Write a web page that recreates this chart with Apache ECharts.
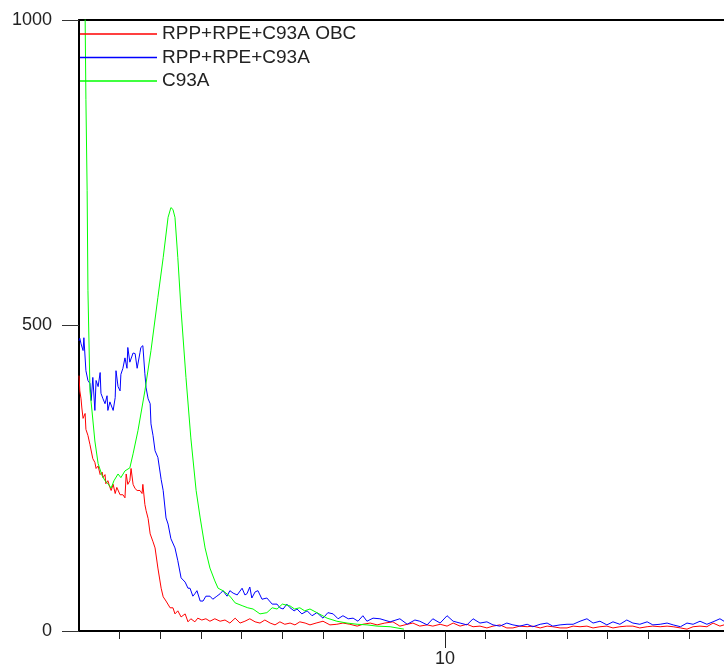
<!DOCTYPE html>
<html>
<head>
<meta charset="utf-8">
<script src="https://cdn.jsdelivr.net/npm/echarts@6/dist/echarts.min.js"></script>
<style>
  html, body { margin: 0; padding: 0; background: #fff; }
  #main { width: 724px; height: 669px; }
</style>
</head>
<body>
<div id="main"></div>
<script>
// legend names
var seriesNames = ['RPP+RPE+C93A OBC', 'RPP+RPE+C93A', 'C93A'];
var seriesColors = ['#ff0000', '#0000ff', '#00ff00'];

// x axis: 1 .. 16.86, only "10" is labelled
var xLabels = [10];

// [x, count]
var redData = [
  [1.00, 418], [1.02, 393], [1.05, 380], [1.07, 365], [1.10, 348], [1.12, 350], [1.15, 356], [1.17, 330],
  [1.22, 320], [1.27, 305], [1.30, 308], [1.34, 282], [1.39, 276], [1.42, 266], [1.47, 270], [1.52, 256],
  [1.57, 260], [1.59, 251], [1.64, 256], [1.66, 241], [1.71, 246], [1.76, 235], [1.79, 230], [1.84, 240],
  [1.89, 225], [1.93, 235], [1.96, 233], [2.01, 223], [2.03, 225], [2.08, 223], [2.13, 218], [2.16, 257],
  [2.20, 240], [2.25, 246], [2.28, 266], [2.33, 240], [2.38, 233], [2.43, 230], [2.50, 230], [2.55, 225],
  [2.57, 240], [2.62, 207], [2.65, 197], [2.70, 184], [2.75, 159], [2.82, 146], [2.87, 136], [2.94, 103],
  [3.02, 70], [3.07, 56], [3.14, 49], [3.24, 38], [3.31, 38], [3.36, 28], [3.43, 33], [3.51, 23],
  [3.61, 28], [3.68, 15], [3.75, 20], [3.85, 15], [3.92, 21], [4.02, 18], [4.12, 20], [4.22, 16],
  [4.34, 20], [4.47, 16], [4.59, 18], [4.71, 13], [4.84, 21], [4.96, 13], [5.08, 16], [5.20, 20],
  [5.33, 15], [5.45, 13], [5.57, 18], [5.70, 13], [5.82, 10], [5.94, 15], [6.06, 11], [6.19, 13],
  [6.31, 10], [6.43, 15], [6.56, 13], [6.68, 10], [6.83, 13], [7.00, 16], [7.17, 10], [7.34, 11],
  [7.49, 13], [7.66, 11], [7.84, 8], [7.98, 11], [8.16, 13], [8.33, 10], [8.52, 13], [8.72, 15],
  [8.89, 8], [9.07, 11], [9.21, 13], [9.38, 8], [9.56, 10], [9.70, 8], [9.88, 11], [10.05, 8],
  [10.20, 13], [10.37, 8], [10.54, 11], [10.69, 7], [10.86, 8], [11.03, 5], [11.18, 8], [11.35, 10],
  [11.52, 5], [11.67, 5], [11.84, 8], [12.02, 7], [12.16, 8], [12.34, 5], [12.51, 8], [12.65, 7],
  [12.83, 5], [13.00, 5], [13.15, 8], [13.32, 7], [13.49, 8], [13.64, 5], [13.81, 7], [13.98, 8],
  [14.13, 5], [14.30, 7], [14.47, 8], [14.62, 8], [14.79, 5], [14.97, 7], [15.11, 8], [15.29, 7],
  [15.46, 8], [15.61, 7], [15.79, 5], [15.95, 3], [16.10, 7], [16.27, 8], [16.44, 7], [16.59, 13],
  [16.76, 8], [16.86, 10]
];

var blueData = [
  [1.00, 475], [1.02, 479], [1.05, 470], [1.10, 459], [1.12, 480], [1.17, 426], [1.22, 410], [1.27, 405],
  [1.30, 377], [1.34, 415], [1.39, 361], [1.42, 410], [1.47, 400], [1.52, 423], [1.54, 389], [1.59, 380],
  [1.64, 372], [1.69, 385], [1.71, 361], [1.76, 375], [1.79, 372], [1.84, 361], [1.89, 382], [1.91, 426],
  [1.96, 400], [2.01, 393], [2.03, 420], [2.08, 430], [2.13, 447], [2.18, 430], [2.20, 464], [2.25, 440],
  [2.28, 438], [2.33, 455], [2.38, 454], [2.43, 430], [2.45, 430], [2.50, 456], [2.52, 464], [2.57, 467],
  [2.62, 421], [2.65, 398], [2.70, 380], [2.75, 372], [2.77, 339], [2.82, 320], [2.87, 295], [2.94, 284],
  [3.02, 248], [3.07, 230], [3.14, 185], [3.19, 175], [3.26, 151], [3.36, 136], [3.43, 115], [3.51, 87],
  [3.61, 80], [3.68, 70], [3.73, 70], [3.80, 57], [3.85, 61], [3.90, 66], [3.98, 49], [4.05, 49],
  [4.12, 57], [4.22, 57], [4.29, 52], [4.39, 57], [4.47, 61], [4.54, 66], [4.64, 57], [4.71, 66],
  [4.79, 62], [4.89, 59], [5.01, 70], [5.08, 59], [5.13, 61], [5.20, 72], [5.25, 54], [5.33, 64],
  [5.40, 66], [5.50, 52], [5.62, 54], [5.75, 44], [5.87, 44], [5.94, 38], [6.02, 36], [6.11, 44],
  [6.19, 38], [6.29, 33], [6.36, 36], [6.48, 28], [6.61, 33], [6.73, 25], [6.85, 30], [7.00, 21],
  [7.12, 30], [7.25, 28], [7.37, 20], [7.49, 25], [7.62, 20], [7.74, 21], [7.86, 16], [7.98, 25],
  [8.08, 16], [8.23, 21], [8.40, 20], [8.65, 15], [8.89, 20], [9.07, 11], [9.26, 18], [9.38, 16],
  [9.56, 10], [9.70, 20], [9.88, 13], [10.05, 25], [10.20, 16], [10.37, 13], [10.54, 10], [10.69, 20],
  [10.86, 13], [11.03, 15], [11.18, 10], [11.35, 8], [11.52, 13], [11.67, 10], [11.84, 8], [12.02, 11],
  [12.16, 7], [12.34, 11], [12.51, 13], [12.65, 8], [12.83, 10], [13.00, 11], [13.15, 11], [13.32, 16],
  [13.49, 20], [13.64, 13], [13.81, 16], [13.98, 10], [14.13, 15], [14.30, 11], [14.47, 18], [14.62, 13],
  [14.79, 11], [14.97, 15], [15.11, 10], [15.29, 11], [15.46, 13], [15.61, 10], [15.79, 7], [15.95, 13],
  [16.10, 11], [16.27, 16], [16.44, 11], [16.59, 15], [16.76, 20], [16.86, 16]
];

var greenData = [
  [1.00, 1400], [1.10, 1300], [1.15, 1010], [1.17, 870], [1.20, 721], [1.22, 557], [1.27, 393], [1.32, 360],
  [1.39, 311], [1.47, 274], [1.57, 254], [1.64, 246], [1.71, 241], [1.79, 234], [1.86, 246], [1.96, 257],
  [2.03, 251], [2.13, 262], [2.25, 267], [2.33, 290], [2.45, 328], [2.62, 393], [2.77, 459], [2.94, 546],
  [3.07, 611], [3.19, 677], [3.26, 693], [3.31, 690], [3.36, 677], [3.43, 611], [3.51, 525], [3.63, 415],
  [3.75, 316], [3.88, 230], [3.98, 185], [4.10, 136], [4.22, 103], [4.34, 82], [4.42, 70], [4.54, 66],
  [4.71, 57], [4.84, 46], [5.03, 41], [5.15, 38], [5.28, 36], [5.45, 28], [5.62, 30], [5.75, 38],
  [5.87, 36], [6.00, 44], [6.19, 41], [6.30, 36], [6.43, 38], [6.55, 33], [6.68, 36], [6.85, 30],
  [7.10, 21], [7.34, 16], [7.59, 13], [7.84, 11], [8.08, 10], [8.33, 8], [8.65, 7], [8.99, 3]
];

var chart = echarts.init(document.getElementById('main'));

var font = '"Liberation Sans", Arial, sans-serif';

var option = {
  animation: false,
  backgroundColor: '#fff',
  textStyle: { fontFamily: font },
  legend: {
    orient: 'vertical',
    left: 80,
    top: 24.5,
    padding: 0,
    icon: 'rect',
    itemWidth: 77,
    itemHeight: 1.5,
    itemGap: 4.5,
    data: seriesNames,
    textStyle: { fontSize: 19, color: '#222', fontFamily: font, lineHeight: 19 }
  },
  grid: { left: 79, right: 0, top: 20, bottom: 38, containLabel: false },
  xAxis: [
    {
      type: 'value',
      min: 1,
      max: 16.86,
      interval: 1,
      splitLine: { show: false },
      axisLine: { lineStyle: { color: '#000', width: 2 } },
      axisTick: { length: 8, lineStyle: { color: '#222', width: 1 } },
      axisLabel: {
        margin: 19,
        fontSize: 18,
        color: '#222',
        fontFamily: font,
        showMinLabel: false,
        showMaxLabel: false,
        formatter: function (v) { return xLabels.indexOf(v) >= 0 ? String(v) : ''; }
      }
    },
    {
      // long tick at 10
      type: 'value',
      position: 'bottom',
      min: 1,
      max: 16.86,
      splitLine: { show: false },
      axisLine: { show: false },
      axisTick: { length: 17, customValues: xLabels, lineStyle: { color: '#222', width: 1 } },
      axisLabel: { show: false }
    },
    {
      // top frame line
      type: 'value',
      position: 'top',
      min: 1,
      max: 16.86,
      splitLine: { show: false },
      axisLine: { lineStyle: { color: '#000', width: 2 } },
      axisTick: { show: false },
      axisLabel: { show: false }
    }
  ],
  yAxis: {
    type: 'value',
    min: 0,
    max: 1000,
    interval: 500,
    splitLine: { show: false },
    axisLine: { show: true, lineStyle: { color: '#000', width: 2 } },
    axisTick: { show: true, length: 17, lineStyle: { color: '#333', width: 1 } },
    axisLabel: {
      margin: 27, fontSize: 18, color: '#222', fontFamily: font,
      formatter: function (v) { return String(v); }
    }
  },
  series: [
    { name: seriesNames[0], data: redData },
    { name: seriesNames[1], data: blueData },
    { name: seriesNames[2], data: greenData }
  ].map(function (s, i) {
    return {
      name: s.name,
      type: 'line',
      data: s.data,
      showSymbol: false,
      symbol: 'none',
      clip: true,
      color: seriesColors[i],
      lineStyle: { color: seriesColors[i], width: 1 }
    };
  })
};

chart.setOption(option);
</script>
</body>
</html>
